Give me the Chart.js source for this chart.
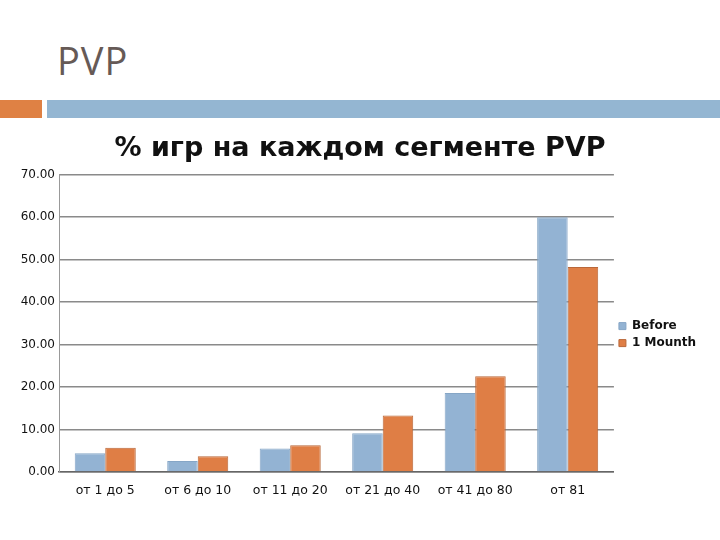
<!DOCTYPE html>
<html><head><meta charset="utf-8">
<script src="https://cdn.jsdelivr.net/npm/chart.js@4.4.0/dist/chart.umd.min.js"></script>
<style>
html,body{margin:0;padding:0;background:#fff;width:720px;height:540px;overflow:hidden;position:relative}
#hdr{position:absolute;left:57px;top:34px;font-family:"Open Sans",sans-serif;font-size:38px;color:#665a56;letter-spacing:1px;font-weight:400}
#barO{position:absolute;left:0;top:100px;width:42px;height:18px;background:#df8144}
#barB{position:absolute;left:47px;top:100px;width:673px;height:18px;background:#94b6d2}
#wrap{position:absolute;left:0;top:125px;width:720px;height:375px}
</style></head>
<body>
<div id="hdr">PVP</div>
<div id="barO"></div><div id="barB"></div>
<div id="wrap"><canvas id="c" width="720" height="375"></canvas></div>
<script>
const categories = ["от 1 до 5","от 6 до 10","от 11 до 20","от 21 до 40","от 41 до 80","от 81"];
const before = [4.4, 2.6, 5.5, 9.1, 18.6, 59.9];
const oneMonth = [5.7, 3.7, 6.3, 13.3, 22.5, 48.2];
const seriesNames = ["Before","1 Mounth"];
const chartTitle = "% игр на каждом сегменте PVP";

const F = '"DejaVu Sans", sans-serif';
new Chart(document.getElementById('c'), {
  type: 'bar',
  data: {
    labels: categories,
    datasets: [
      {label: seriesNames[0], data: before, backgroundColor:'#93b3d3', borderColor:'#86a6c6', borderWidth:1, categoryPercentage:0.66, barPercentage:1},
      {label: seriesNames[1], data: oneMonth, backgroundColor:'#df7e45', borderColor:'#b9683a', borderWidth:1, categoryPercentage:0.66, barPercentage:1}
    ]
  },
  options: {
    responsive:false, animation:false,
    layout:{padding:{left:14,right:14,top:0,bottom:0}},
    plugins:{
      title:{display:true,text:chartTitle,font:{family:F,size:27,weight:'bold'},color:'#111',padding:{top:8,bottom:9}},
      legend:{position:'right',align:'center',
        title:{display:true,text:' ',font:{size:1},padding:{top:0,bottom:43}},
        labels:{boxWidth:7,boxHeight:7,font:{family:F,size:12,weight:'bold'},color:'#111',padding:5}},
      tooltip:{enabled:false}
    },
    scales:{
      x:{grid:{display:false},border:{color:'#666',width:1.5},
         ticks:{font:{family:F,size:12.5},color:'#111',padding:3,maxRotation:0},
         afterFit:(s)=>{s.height=28;}},
      y:{min:0,max:70,grid:{color:'#8a8a8a',lineWidth:1.5,drawTicks:false},border:{color:'#999',width:1},
         ticks:{stepSize:10,font:{family:F,size:12},color:'#111',padding:4,callback:(v)=>v.toFixed(2)},
         afterFit:(s)=>{s.width=45;}}
    }
  }
});
</script>
</body></html>
